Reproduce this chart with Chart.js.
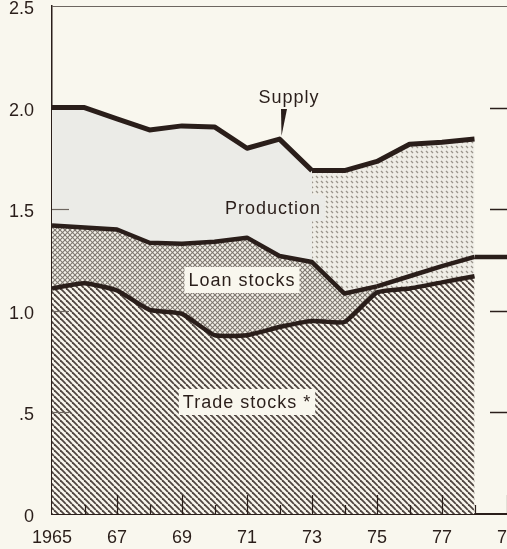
<!DOCTYPE html>
<html>
<head>
<meta charset="utf-8">
<script src="https://cdn.jsdelivr.net/npm/chart.js@4.4.1/dist/chart.umd.min.js"></script>
<style>
  html, body { margin: 0; padding: 0; background: #f9f7ee; overflow: hidden; }
  canvas { display: block; }
</style>
</head>
<body>
<canvas id="c" width="507" height="549"></canvas>
<script>
// ---- data ----
const years = [1965, 1966, 1967, 1968, 1969, 1970, 1971, 1972, 1973, 1974, 1975, 1976, 1977, 1978];
const tradeStocks = [1.11, 1.135, 1.10, 1.005, 0.985, 0.88, 0.88, 0.92, 0.95, 0.945, 1.09, 1.11, 1.14, 1.17];
const tradePlusLoanStocks = [1.42, 1.41, 1.40, 1.335, 1.33, 1.34, 1.36, 1.27, 1.24, 1.085, 1.12, 1.17, 1.22, 1.265];
const supply = [2.00, 2.00, 1.945, 1.89, 1.91, 1.905, 1.80, 1.845, 1.69, 1.69, 1.735, 1.82, 1.83, 1.845];
const loanExtensionYears = [1978, 1979];
const loanExtension = [1.265, 1.265];
const yTickValues = [0, 0.5, 1.0, 1.5, 2.0, 2.5];
const yTickLabels = ['0', '.5', '1.0', '1.5', '2.0', '2.5'];
const xTickYears = [1965, 1967, 1969, 1971, 1973, 1975, 1977, 1979];
const xTickLabels = ['1965', '67', '69', '71', '73', '75', '77', '79'];
const minorTickYears = [1966, 1968, 1970, 1972, 1974, 1976, 1978];
const rightTickValues = [0.5, 1.0, 1.5, 2.0];
const leftInnerTickValues = [0.5, 1.0, 1.5];

const INK = '#2a1e1a';
const BG = '#f9f7ee';
const FONT = '"Liberation Sans", Arial, Helvetica, sans-serif';

function makePattern(size, bg, draw) {
  const c = document.createElement('canvas');
  c.width = size; c.height = size;
  const g = c.getContext('2d');
  g.fillStyle = bg; g.fillRect(0, 0, size, size);
  draw(g, size);
  return g.createPattern(c, 'repeat');
}
const hatch = makePattern(6, '#f8f5ec', (g, s) => {
  g.strokeStyle = '#4f4540'; g.lineWidth = 1.8;
  for (const o of [-s, 0, s]) { g.beginPath(); g.moveTo(o, 0); g.lineTo(o + s, s); g.stroke(); }
});
const cross = makePattern(5, '#f4f1e9', (g, s) => {
  g.strokeStyle = '#7e776f'; g.lineWidth = 1.1;
  for (const o of [-s, 0, s]) {
    g.beginPath(); g.moveTo(o, 0); g.lineTo(o + s, s); g.stroke();
    g.beginPath(); g.moveTo(o + s, 0); g.lineTo(o, s); g.stroke();
  }
});
const stipple = makePattern(5, '#efede6', (g) => {
  g.strokeStyle = '#98938a'; g.lineWidth = 1.3;
  g.beginPath(); g.moveTo(1, 1); g.lineTo(3, 3); g.stroke();
});
const lightFill = '#ebebe7';

const pts = (xs, ys) => xs.map((x, i) => ({ x: x, y: ys[i] }));

const overlay = {
  id: 'overlay',
  afterDraw(chart) {
    const { ctx, scales: { x, y }, chartArea: a } = chart;
    ctx.save();
    // top frame line
    ctx.strokeStyle = '#6d6660'; ctx.lineWidth = 1;
    ctx.beginPath(); ctx.moveTo(a.left, a.top + 0.5); ctx.lineTo(a.right, a.top + 0.5); ctx.stroke();
    // x tick marks (inside)
    ctx.strokeStyle = INK; ctx.lineWidth = 1.2;
    xTickYears.forEach(v => {
      if (v === 1965) return;
      const px = Math.round(x.getPixelForValue(v)) + 0.5;
      ctx.beginPath(); ctx.moveTo(px, a.bottom); ctx.lineTo(px, a.bottom - 19); ctx.stroke();
    });
    minorTickYears.forEach(v => {
      const px = Math.round(x.getPixelForValue(v)) + 0.5;
      ctx.beginPath(); ctx.moveTo(px, a.bottom); ctx.lineTo(px, a.bottom - 9); ctx.stroke();
    });
    // right side ticks
    ctx.lineWidth = 1.5;
    rightTickValues.forEach(v => {
      const py = Math.round(y.getPixelForValue(v)) + 0.5;
      ctx.beginPath(); ctx.moveTo(a.right - 17, py); ctx.lineTo(a.right, py); ctx.stroke();
    });
    // left inner ticks
    ctx.strokeStyle = '#6d6660'; ctx.lineWidth = 1.2;
    leftInnerTickValues.forEach(v => {
      const py = Math.round(y.getPixelForValue(v)) + 0.5;
      ctx.beginPath(); ctx.moveTo(a.left, py); ctx.lineTo(a.left + 17, py); ctx.stroke();
    });

    // annotations
    ctx.font = '18px ' + FONT;
    ctx.textAlign = 'center'; ctx.textBaseline = 'middle';
    if ('letterSpacing' in ctx) ctx.letterSpacing = '1px';
    function label(text, cx, cy, box) {
      if (box) {
        const w = ctx.measureText(text).width;
        ctx.fillStyle = box;
        ctx.fillRect(cx - w / 2 - 4, cy - 13, w + 8, 26);
      }
      ctx.fillStyle = INK;
      ctx.fillText(text, cx, cy + 1);
    }
    label('Supply', 289, 97, null);
    label('Production', 273, 208, lightFill);
    label('Loan stocks', 242, 280, BG);
    label('Trade stocks *', 247, 402, BG);
    // supply pointer
    ctx.fillStyle = INK;
    ctx.beginPath();
    ctx.moveTo(281, 109); ctx.lineTo(287, 109); ctx.lineTo(281.5, 136); ctx.closePath(); ctx.fill();
    ctx.restore();
  }
};

new Chart(document.getElementById('c'), {
  type: 'line',
  data: {
    datasets: [
      {
        label: 'Trade stocks',
        data: pts(years, tradeStocks),
        borderColor: INK, borderWidth: 4.5,
        backgroundColor: hatch, fill: 'origin',
        pointRadius: 0, tension: 0.15
      },
      {
        label: 'Loan stocks',
        data: pts(years, tradePlusLoanStocks),
        borderColor: INK, borderWidth: 4.5,
        backgroundColor: cross, fill: '-1',
        pointRadius: 0, tension: 0,
        segment: { backgroundColor: c => c.p0.parsed.x >= 1975 ? stipple : cross }
      },
      {
        label: 'Production',
        data: pts(years, supply),
        borderColor: INK, borderWidth: 5,
        backgroundColor: lightFill, fill: '-1',
        pointRadius: 0, tension: 0,
        segment: { backgroundColor: c => c.p0.parsed.x >= 1973 ? stipple : lightFill }
      },
      {
        label: 'Loan extension',
        data: pts(loanExtensionYears, loanExtension),
        borderColor: INK, borderWidth: 4.5,
        fill: false, pointRadius: 0
      }
    ]
  },
  options: {
    responsive: false,
    animation: false,
    devicePixelRatio: 1,
    layout: { padding: { top: 6, left: 0, right: 0, bottom: 0 } },
    plugins: { legend: { display: false }, tooltip: { enabled: false } },
    elements: { line: { borderCapStyle: 'butt', borderJoinStyle: 'round' } },
    scales: {
      x: {
        type: 'linear', min: 1965, max: 1979, z: 1,
        grid: { display: false, drawTicks: false },
        border: { display: true, color: INK, width: 2 },
        afterBuildTicks: s => { s.ticks = xTickYears.map(v => ({ value: v })); },
        afterFit: s => { s.paddingLeft = 0; s.paddingRight = 0; s.height = 35; },
        ticks: {
          padding: 13, color: INK, maxRotation: 0, autoSkip: false,
          font: { family: FONT, size: 18 },
          callback: v => xTickLabels[xTickYears.indexOf(v)]
        }
      },
      y: {
        min: 0, max: 2.5, z: 1,
        grid: { display: false, drawTicks: false },
        border: { display: true, color: INK, width: 1.5 },
        afterBuildTicks: s => { s.ticks = yTickValues.map(v => ({ value: v })); },
        afterFit: s => { s.width = 52; s.paddingTop = 0; s.paddingBottom = 0; },
        ticks: {
          padding: 18, color: INK, labelOffset: 3,
          font: { family: FONT, size: 18 },
          callback: v => yTickLabels[yTickValues.indexOf(v)]
        }
      }
    }
  },
  plugins: [overlay]
});
</script>
</body>
</html>
